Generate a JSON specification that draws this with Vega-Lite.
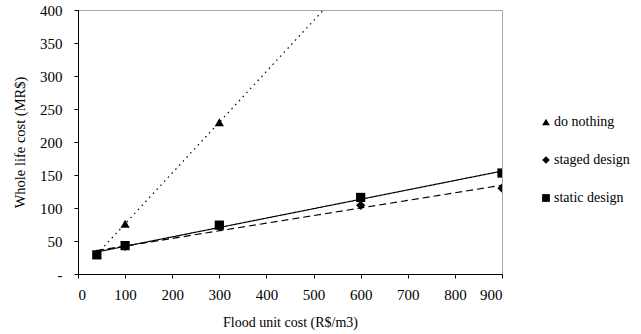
{
  "$schema": "https://vega.github.io/schema/vega-lite/v6.json",
  "width": 424,
  "height": 264,
  "autosize": {"type": "none"},
  "padding": {"left": 78, "top": 10, "right": 139, "bottom": 60},
  "background": "white",
  "config": {
    "view": {"stroke": "#a6a6a6", "strokeWidth": 1},
    "font": "Liberation Serif",
    "axis": {
      "grid": false,
      "domainColor": "black",
      "tickColor": "black",
      "labelColor": "black",
      "titleColor": "black",
      "labelFont": "Liberation Serif",
      "titleFont": "Liberation Serif",
      "titleFontWeight": "normal",
      "tickSize": 4,
      "labelOverlap": false
    }
  },
  "data": {
    "values": [
      {"series": "do nothing", "x": 40, "y": 30},
      {"series": "do nothing", "x": 100, "y": 76},
      {"series": "do nothing", "x": 300, "y": 230},
      {"series": "staged design", "x": 40, "y": 30},
      {"series": "staged design", "x": 100, "y": 42},
      {"series": "staged design", "x": 300, "y": 72},
      {"series": "staged design", "x": 600, "y": 104},
      {"series": "staged design", "x": 900, "y": 130},
      {"series": "static design", "x": 40, "y": 29},
      {"series": "static design", "x": 100, "y": 43},
      {"series": "static design", "x": 300, "y": 74},
      {"series": "static design", "x": 600, "y": 116},
      {"series": "static design", "x": 900, "y": 153}
    ]
  },
  "encoding": {
    "x": {
      "field": "x",
      "type": "quantitative",
      "scale": {"domain": [0, 900], "nice": false},
      "axis": {
        "values": [0, 100, 200, 300, 400, 500, 600, 700, 800, 900],
        "title": "Flood unit cost (R$/m3)",
        "labelFontSize": 15,
        "titleFontSize": 14,
        "labelPadding": 9,
        "titlePadding": 13
      }
    },
    "y": {
      "field": "y",
      "type": "quantitative",
      "scale": {"domain": [0, 400], "nice": false},
      "axis": {
        "values": [0, 50, 100, 150, 200, 250, 300, 350, 400],
        "labelExpr": "datum.value == 0 ? '-' : datum.label",
        "title": "Whole life cost (MR$)",
        "labelFontSize": 15,
        "titleFontSize": 14.5,
        "labelPadding": 12,
        "titlePadding": 12
      }
    }
  },
  "resolve": {"legend": {"shape": "independent", "strokeDash": "independent"}},
  "layer": [
    {
      "transform": [
        {"regression": "y", "on": "x", "groupby": ["series"], "extent": [40, 900]}
      ],
      "mark": {"type": "line", "clip": true, "color": "black", "strokeWidth": 1.2},
      "encoding": {
        "detail": {"field": "series"},
        "strokeDash": {
          "field": "series",
          "type": "nominal",
          "scale": {
            "domain": ["do nothing", "staged design", "static design"],
            "range": [[1.5, 4], [7, 4], [1, 0]]
          },
          "legend": null
        }
      }
    },
    {
      "mark": {"type": "point", "filled": true, "color": "black", "opacity": 1, "clip": true},
      "encoding": {
        "shape": {
          "field": "series",
          "type": "nominal",
          "scale": {
            "domain": ["do nothing", "staged design", "static design"],
            "range": ["triangle-up", "diamond", "square"]
          },
          "legend": {
            "title": null,
            "orient": "none",
            "legendX": 461,
            "legendY": 105,
            "symbolFillColor": "black",
            "symbolStrokeColor": "black",
            "symbolStrokeWidth": 0,
            "symbolSize": 60,
            "rowPadding": 24,
            "labelOffset": 1,
            "labelFont": "Liberation Serif",
            "labelFontSize": 14,
            "labelColor": "black"
          }
        },
        "size": {"value": 85}
      }
    }
  ]
}
